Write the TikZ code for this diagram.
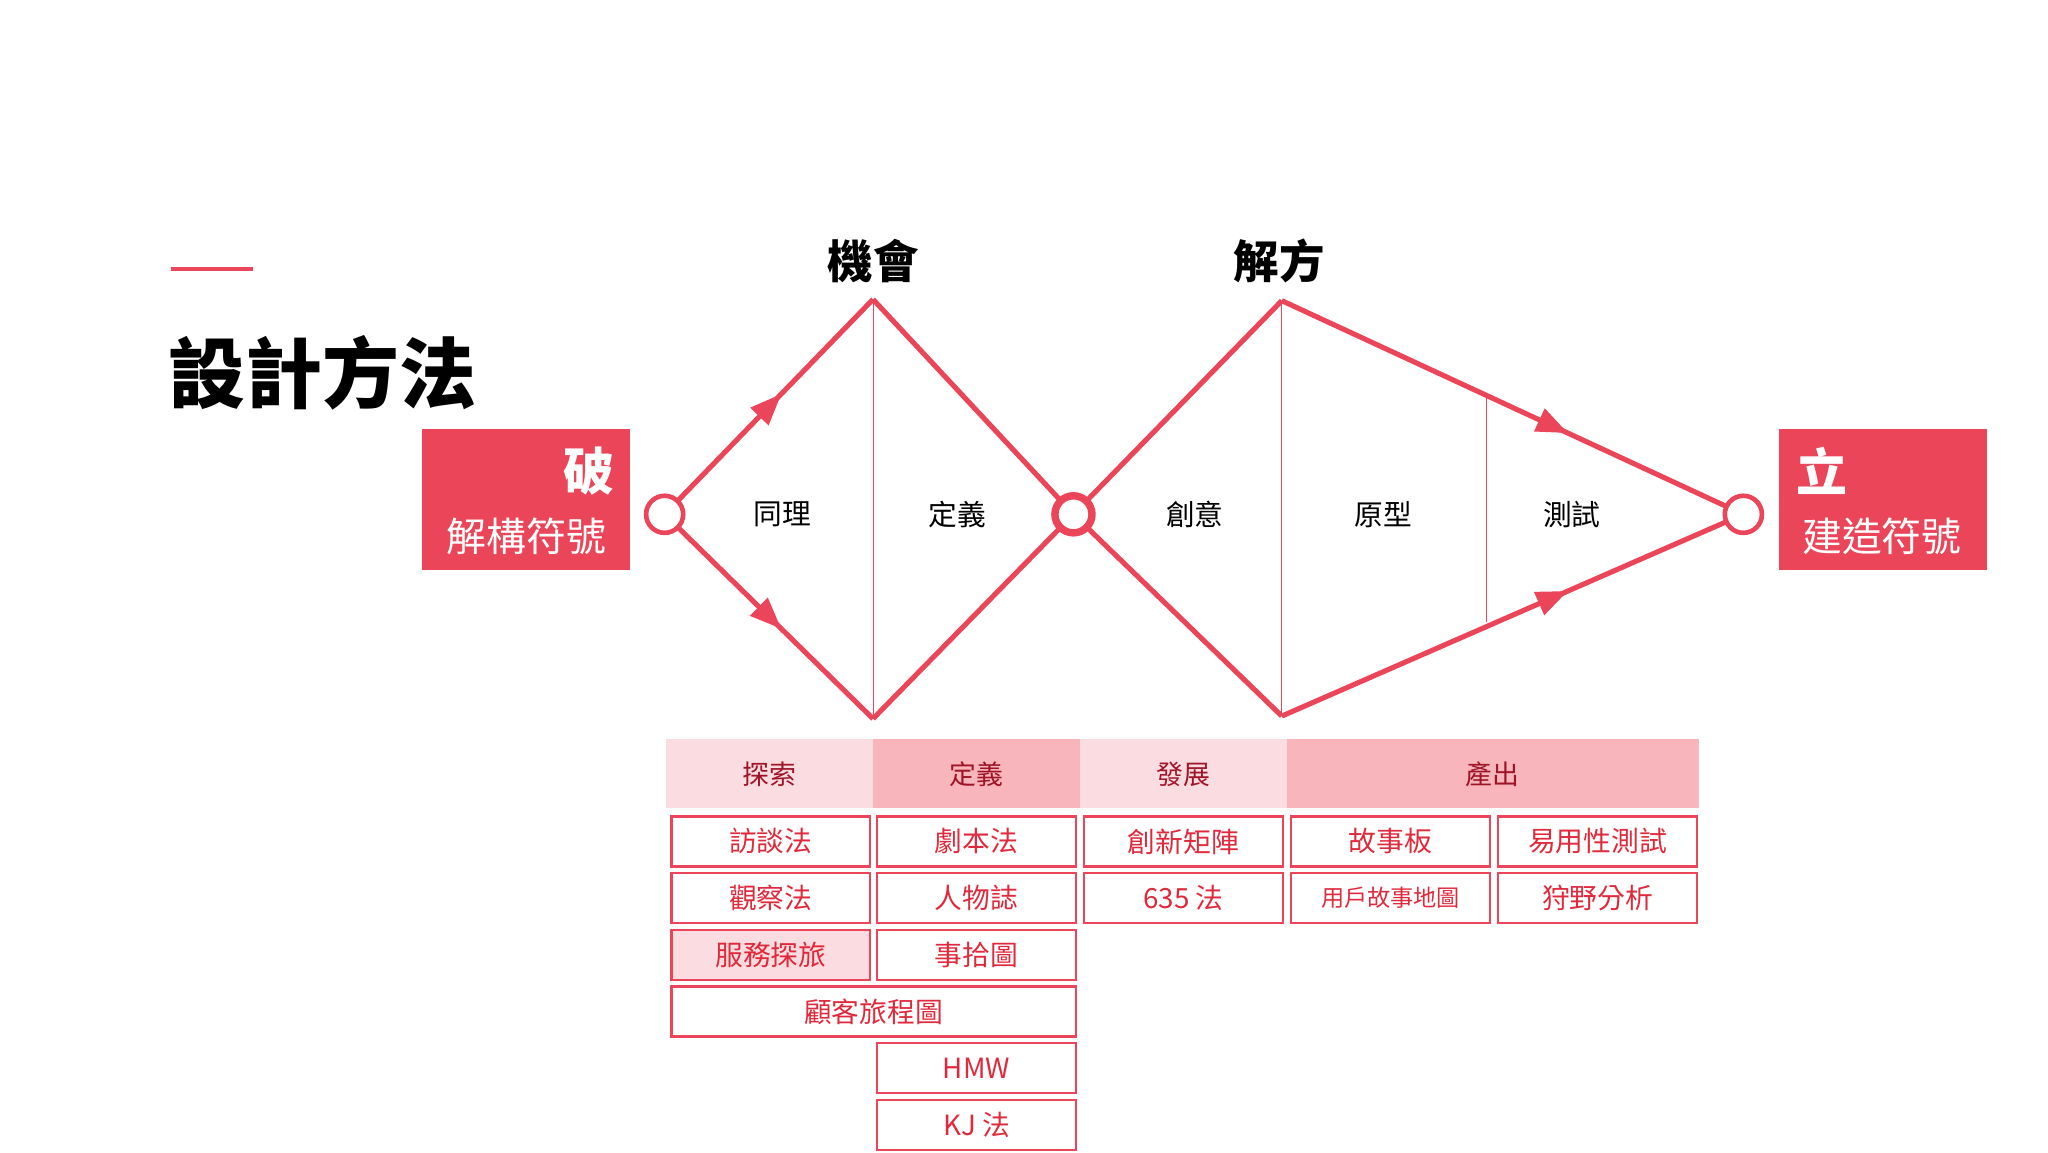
\documentclass[tikz,border=0pt]{standalone}
\usepackage{fontspec}
\setmainfont{Noto Sans CJK TC}
\usetikzlibrary{decorations.markings,arrows.meta}
\definecolor{myred}{HTML}{EA4558}
\definecolor{lpink}{HTML}{FBDCE0}
\definecolor{dpink}{HTML}{F8B5BC}
\definecolor{hdtext}{HTML}{A01428}
\definecolor{btext}{HTML}{E02A3C}
\newcommand{\fs}[1]{\fontsize{#1}{#1}\selectfont}
\tikzset{
 edge/.style={myred,line width=5.5},
 midarr/.style={postaction={decorate},decoration={markings,mark=at position #1 with {\arrow{Triangle[length=34,width=26]}}}},
 circ/.style={circle,draw=myred,fill=white,line width=5,minimum size=40,inner sep=0},
 lbl/.style={font=\fs{31}},
 hd/.style={font=\fs{29},text=hdtext,inner sep=0,minimum height=53*1.42pt},
 bx/.style={draw=myred,line width=2.5,text=btext,font=\fs{30},inner sep=0,minimum height=38*1.42pt},
}
\begin{document}
\begin{tikzpicture}[x=0.05cm,y=-0.05cm]
\useasboundingbox (0,0) rectangle (1553,873.6);
\draw[myred,line width=5] (130,204) -- (192,204);
\node[anchor=west,font=\fs{83}\bfseries,inner sep=0] (title) at (128,283) {設計方法};
% left box
\fill[myred] (320,325) rectangle (478,432);
\node[text=white,font=\fs{55}\bfseries,anchor=east,inner sep=0] (po) at (466,357) {破};
\node[text=white,font=\fs{43},inner sep=0] (jg) at (399,407) {解構符號};
% right box
\fill[myred] (1349,325) rectangle (1507,432);
\node[text=white,font=\fs{55}\bfseries,anchor=west,inner sep=0] (li) at (1362,357) {立};
\node[text=white,font=\fs{43},inner sep=0] (jz) at (1427,407) {建造符號};
% coordinates
\coordinate (L) at (504,390);
\coordinate (T1) at (662,227);
\coordinate (B1) at (662,545);
\coordinate (M) at (814,390);
\coordinate (T2) at (972,228);
\coordinate (B2) at (972,543);
\coordinate (R) at (1322,390);
\draw[myred,line width=1] (T1) -- (B1);
\draw[myred,line width=1] (T2) -- (B2);
\draw[myred,line width=1] (1127,298) -- (1127,472);
\draw[edge,midarr=0.56] (L) -- (T1);
\draw[edge,midarr=0.56] (L) -- (B1);
\draw[edge] (T1) -- (M) -- (B1);
\draw[edge] (M) -- (T2);
\draw[edge] (M) -- (B2);
\draw[edge,midarr=0.62] (T2) -- (R);
\draw[edge,midarr=0.62] (B2) -- (R);
\node[circ] (cL) at (L) {};
\node[circ,line width=8] (cM) at (M) {};
\node[circ] (cR) at (R) {};
\node[font=\fs{49}\bfseries] (jh) at (662,198) {機會};
\node[font=\fs{49}\bfseries] (jf) at (970,198) {解方};
\node[lbl] (a1) at (593,390) {同理};
\node[lbl] (a2) at (726,390) {定義};
\node[lbl] (a3) at (906,390) {創意};
\node[lbl] (a4) at (1049,390) {原型};
\node[lbl] (a5) at (1192,390) {測試};
% header
\fill[lpink] (505,560) rectangle (662,613);
\fill[dpink] (662,560) rectangle (819,613);
\fill[lpink] (819,560) rectangle (976,613);
\fill[dpink] (976,560) rectangle (1288,613);
\node[hd] (h1) at (583.5,587) {探索};
\node[hd] (h2) at (740.5,587) {定義};
\node[hd] (h3) at (897.5,587) {發展};
\node[hd] (h4) at (1132,587) {產出};
% boxes
\foreach \x/\y/\t/\n in {584.5/638/訪談法/b11, 740.5/638/劇本法/b12, 897.5/638/創新矩陣/b13, 1054.5/638/故事板/b14, 1211.5/638/易用性測試/b15,
 584.5/681/觀察法/b21, 740.5/681/人物誌/b22, 897.5/681/635 法/b23, 1211.5/681/狩野分析/b25,
 740.5/724/事拾圖/b32, 740.5/810/HMW/b52, 740.5/853/KJ 法/b62}
 {\node[bx,minimum width=151*1.42pt] (\n) at (\x,\y) {\t};}
\node[bx,minimum width=151*1.42pt,font=\fs{25}] (b24) at (1054.5,681) {用戶故事地圖};
\node[bx,minimum width=151*1.42pt,fill=lpink] (b31) at (584.5,724) {服務探旅};
\node[bx,minimum width=307*1.42pt] (b41) at (662.5,767) {顧客旅程圖};
\end{tikzpicture}
\end{document}
